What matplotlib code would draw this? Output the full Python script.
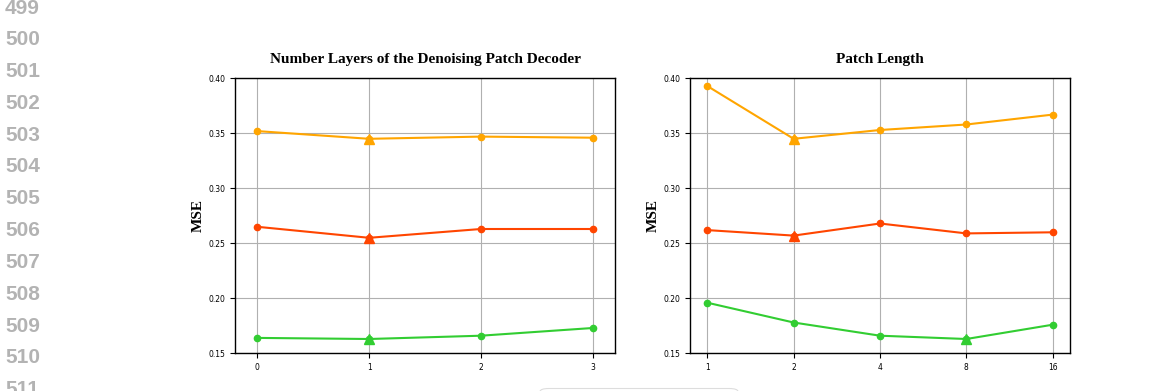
import matplotlib
matplotlib.use("Agg")
import matplotlib.pyplot as plt
from matplotlib.patches import FancyBboxPatch

# data
layers_ticks = ["0", "1", "2", "3"]
layers_orange = [0.352, 0.345, 0.347, 0.346]
layers_red = [0.265, 0.255, 0.263, 0.263]
layers_green = [0.164, 0.163, 0.166, 0.173]

patch_ticks = ["1", "2", "4", "8", "16"]
patch_orange = [0.393, 0.345, 0.353, 0.358, 0.367]
patch_red = [0.262, 0.257, 0.268, 0.259, 0.260]
patch_green = [0.196, 0.178, 0.166, 0.163, 0.176]

titles = ["Number Layers of the Denoising Patch Decoder", "Patch Length"]
line_numbers = list(range(499, 512))

colors = ["orange", "orangered", "limegreen"]

fig = plt.figure(figsize=(11.56, 3.91), dpi=100)

# page line numbers on the left margin
for i, n in enumerate(line_numbers):
    y = 1 - (8 + 31.8 * i) / 391
    fig.text(5 / 1156, y, str(n), fontsize=15, fontweight="bold",
             family="Liberation Sans", color="#b3b3b3", va="center", ha="left")

panels = [
    (235, layers_ticks, [layers_orange, layers_red, layers_green], titles[0]),
    (690, patch_ticks, [patch_orange, patch_red, patch_green], titles[1]),
]

for left, ticks, series, title in panels:
    ax = fig.add_axes([left / 1156, 1 - 353.3 / 391, 380 / 1156, 275 / 391])
    xs = list(range(len(ticks)))
    for vals, c in zip(series, colors):
        ax.plot(xs, vals, color=c, linewidth=1.5, marker="o", markersize=4.5, zorder=3)
        best = vals.index(min(vals))
        ax.plot(xs[best], vals[best], color=c, marker="^", markersize=7, zorder=4)
    ax.set_xticks(xs)
    ax.set_xticklabels(ticks)
    ax.set_xlim(-0.2, len(ticks) - 0.8)
    ax.set_ylim(0.15, 0.40)
    ax.set_yticks([0.15, 0.20, 0.25, 0.30, 0.35, 0.40])
    ax.tick_params(labelsize=5.5, length=3.5, width=0.8)
    ax.grid(True, color="#b0b0b0", linewidth=0.8)
    ax.set_axisbelow(True)
    for s in ax.spines.values():
        s.set_linewidth(1.0)
    ax.set_title(title, fontsize=11, fontweight="bold", family="Liberation Serif", pad=11)
    ax.set_ylabel("MSE", fontsize=11, fontweight="bold", family="Liberation Serif")
    ax.yaxis.set_label_coords(-0.079, 0.5)

# top edge of a legend box cut off by the crop
box = FancyBboxPatch((540 / 1156, -0.05), 198 / 1156, 0.05 + 1 - 388.5 / 391,
                     boxstyle="round,pad=0,rounding_size=0.008",
                     transform=fig.transFigure, facecolor="white",
                     edgecolor="#dddddd", linewidth=0.8)
fig.patches.append(box)

fig.savefig("out.png", dpi=100)
